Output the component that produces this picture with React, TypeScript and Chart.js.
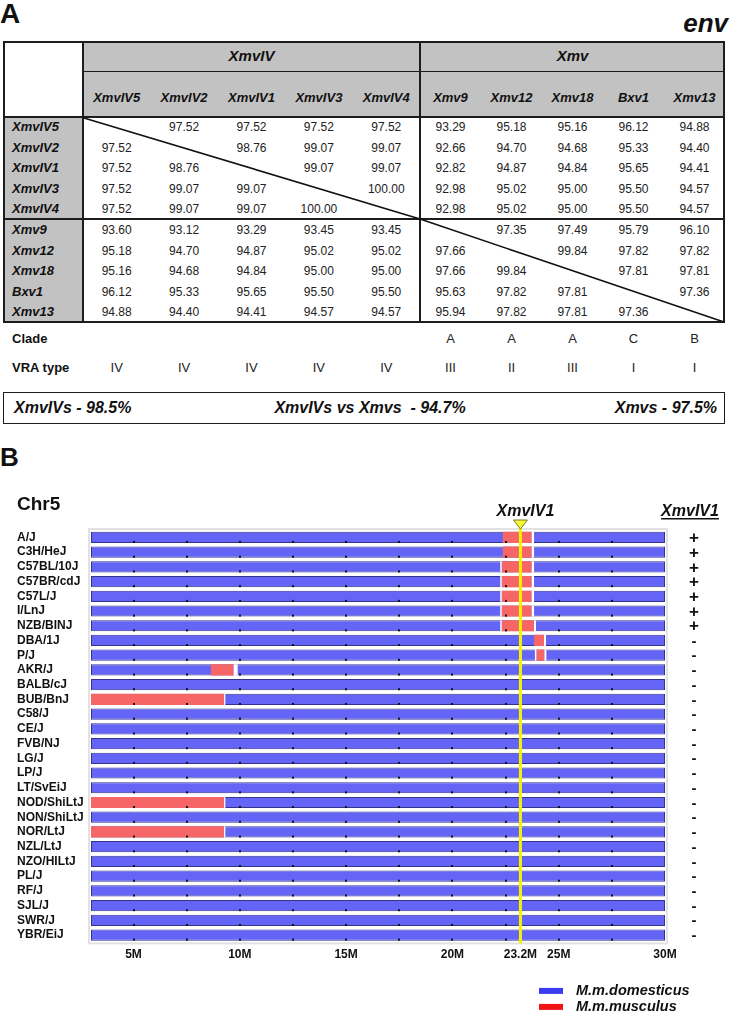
import React, { useEffect, useRef } from "react";
import { Chart, registerables } from "chart.js";

Chart.register(...registerables);

// ---------- Panel A data ----------
const virusNames = ["XmvIV5", "XmvIV2", "XmvIV1", "XmvIV3", "XmvIV4", "Xmv9", "Xmv12", "Xmv18", "Bxv1", "Xmv13"];
const groupNames = ["XmvIV", "Xmv"];
const identityRows: (number | null)[][] = [
  [null, 97.52, 97.52, 97.52, 97.52, 93.29, 95.18, 95.16, 96.12, 94.88],
  [97.52, null, 98.76, 99.07, 99.07, 92.66, 94.7, 94.68, 95.33, 94.4],
  [97.52, 98.76, null, 99.07, 99.07, 92.82, 94.87, 94.84, 95.65, 94.41],
  [97.52, 99.07, 99.07, null, 100.0, 92.98, 95.02, 95.0, 95.5, 94.57],
  [97.52, 99.07, 99.07, 100.0, null, 92.98, 95.02, 95.0, 95.5, 94.57],
  [93.6, 93.12, 93.29, 93.45, 93.45, null, 97.35, 97.49, 95.79, 96.1],
  [95.18, 94.7, 94.87, 95.02, 95.02, 97.66, null, 99.84, 97.82, 97.82],
  [95.16, 94.68, 94.84, 95.0, 95.0, 97.66, 99.84, null, 97.81, 97.81],
  [96.12, 95.33, 95.65, 95.5, 95.5, 95.63, 97.82, 97.81, null, 97.36],
  [94.88, 94.4, 94.41, 94.57, 94.57, 95.94, 97.82, 97.81, 97.36, null],
];
const clades = ["", "", "", "", "", "A", "A", "A", "C", "B"];
const vraTypes = ["IV", "IV", "IV", "IV", "IV", "III", "II", "III", "I", "I"];
const summaryTexts = ["XmvIVs - 98.5%", "XmvIVs vs Xmvs  - 94.7%", "Xmvs - 97.5%"];

// ---------- Panel B data ----------
const strains = [
  "A/J", "C3H/HeJ", "C57BL/10J", "C57BR/cdJ", "C57L/J", "I/LnJ", "NZB/BINJ", "DBA/1J", "P/J", "AKR/J",
  "BALB/cJ", "BUB/BnJ", "C58/J", "CE/J", "FVB/NJ", "LG/J", "LP/J", "LT/SvEiJ", "NOD/ShiLtJ", "NON/ShiLtJ",
  "NOR/LtJ", "NZL/LtJ", "NZO/HILtJ", "PL/J", "RF/J", "SJL/J", "SWR/J", "YBR/EiJ",
];
const xmvIV1Presence = ["+", "+", "+", "+", "+", "+", "+", "-", "-", "-", "-", "-", "-", "-", "-", "-", "-", "-", "-", "-", "-", "-", "-", "-", "-", "-", "-", "-"];
const chrStart = 3;
const chrEnd = 30;
type Seg = [number, number] | null;
const musculusSegments: Seg[] = [
  [22.37, 23.73], [22.37, 23.73], [22.32, 23.73], [22.32, 23.73], [22.32, 23.73], [22.32, 23.73], [22.32, 23.84],
  [23.84, 24.31], [23.95, 24.33], [8.64, 9.71], null, [3, 9.26], null, null, null, null, null, null,
  [3, 9.26], null, [3, 9.26], null, null, null, null, null, null, null,
];
const gapAfterSegments: Seg[] = [
  [23.73, 23.84], [23.73, 23.84], [23.73, 23.84], [23.73, 23.84], [23.73, 23.84], [23.73, 23.84], [23.84, 23.93],
  [24.31, 24.4], [24.33, 24.42], [9.71, 9.9], null, [9.26, 9.32], null, null, null, null, null, null,
  [9.26, 9.32], null, [9.26, 9.32], null, null, null, null, null, null, null,
];
const gapBeforeSegments: Seg[] = [
  null, null, [22.25, 22.32], [22.25, 22.32], [22.25, 22.32], [22.25, 22.32], [22.25, 22.32],
  null, [23.88, 23.95], null, null, null, null, null, null, null, null, null,
  null, null, null, null, null, null, null, null, null, null,
];
const xTickValues = [5, 10, 15, 20, 23.2, 25, 30];
const markerValues = [5, 7.5, 10, 12.5, 15, 17.5, 20, 22.5, 25, 27.5];
const insertionSite = 23.2;
const legendItems = [
  { label: "M.m.domesticus", color: "#3b3bf2" },
  { label: "M.m.musculus", color: "#f01414" },
];

const FONT = "'Liberation Sans', Arial, Helvetica, sans-serif";

const overlayPlugin = {
  id: "overlay",
  beforeDatasetsDraw(chart: any) {
    const { ctx, chartArea: a } = chart;
    ctx.save();
    ctx.fillStyle = "#e2e2e2";
    ctx.fillRect(a.left - 3, a.top - 2, a.right - a.left + 6, a.bottom - a.top + 4);
    ctx.fillStyle = "#ffffff";
    ctx.fillRect(a.left - 1, a.top, a.right - a.left + 2, a.bottom - a.top);
    ctx.restore();
  },
  afterDatasetsDraw(chart: any) {
    const { ctx, chartArea: a, scales } = chart;
    const xs = scales.x;
    const ys = scales.y;
    ctx.save();
    // tick marks on bars
    const meta = chart.getDatasetMeta(0);
    ctx.fillStyle = "#111111";
    meta.data.forEach((bar: any) => {
      const p = bar.getProps(["y", "height"], true);
      const bottom = p.y + p.height / 2;
      markerValues.forEach((v) => {
        const px = xs.getPixelForValue(v);
        ctx.fillRect(Math.round(px) - 1, bottom - 2, 2, 2);
      });
    });
    // insertion line
    const lx = xs.getPixelForValue(insertionSite);
    ctx.strokeStyle = "#f4f400";
    ctx.lineWidth = 3;
    ctx.beginPath();
    ctx.moveTo(lx, a.top - 2);
    ctx.lineTo(lx, a.bottom + 1);
    ctx.stroke();
    // triangle
    ctx.beginPath();
    ctx.moveTo(lx - 7, a.top - 10);
    ctx.lineTo(lx + 7, a.top - 10);
    ctx.lineTo(lx, a.top - 1);
    ctx.closePath();
    ctx.fillStyle = "#f8f830";
    ctx.fill();
    ctx.strokeStyle = "#7a7a30";
    ctx.lineWidth = 1;
    ctx.stroke();
    // label above line
    ctx.fillStyle = "#111111";
    ctx.font = `italic bold 16px ${FONT}`;
    ctx.textAlign = "center";
    ctx.textBaseline = "alphabetic";
    ctx.fillText("XmvIV1", lx + 5, a.top - 14);
    // right header, underlined
    const rx = 690;
    ctx.fillText("XmvIV1", rx, a.top - 14);
    const w = ctx.measureText("XmvIV1").width;
    ctx.fillRect(rx - w / 2, a.top - 12, w, 1.5);
    // +/- column
    strains.forEach((_, i) => {
      const cy = ys.getPixelForValue(i);
      const s = xmvIV1Presence[i];
      ctx.font = s === "+" ? `bold 17px ${FONT}` : `bold 15px ${FONT}`;
      ctx.textBaseline = "middle";
      ctx.fillText(s, 694, cy + 1);
    });
    // Chr5 title
    ctx.textAlign = "left";
    ctx.textBaseline = "alphabetic";
    ctx.font = `bold 19px ${FONT}`;
    ctx.fillText("Chr5", 17, a.top - 20);
    // legend
    legendItems.forEach((it, i) => {
      const cy = a.bottom + 48.5 + i * 16;
      ctx.fillStyle = it.color;
      ctx.fillRect(539, cy - 3, 24, 6);
      ctx.fillStyle = "#111111";
      ctx.font = `italic bold 14.5px ${FONT}`;
      ctx.textBaseline = "middle";
      ctx.fillText(it.label, 576, cy);
    });
    ctx.restore();
  },
};

function GenomeChart() {
  const ref = useRef<HTMLCanvasElement | null>(null);
  useEffect(() => {
    if (!ref.current) return;
    const common = { grouped: false, barPercentage: 0.76, categoryPercentage: 1, borderSkipped: false };
    const chart = new Chart(ref.current, {
      type: "bar",
      data: {
        labels: strains,
        datasets: [
          {
            label: "M.m.domesticus",
            data: strains.map(() => [chrStart, chrEnd]),
            backgroundColor: "#6464f6",
            borderColor: "#34348a",
            borderWidth: 1,
            order: 3,
            ...common,
          } as any,
          {
            label: "M.m.musculus",
            data: musculusSegments,
            backgroundColor: "#f76666",
            borderWidth: 0,
            order: 2,
            ...common,
          } as any,
          {
            label: "gapAfter",
            data: gapAfterSegments,
            backgroundColor: "#ffffff",
            borderWidth: 0,
            order: 1,
            ...common,
          } as any,
          {
            label: "gapBefore",
            data: gapBeforeSegments,
            backgroundColor: "#ffffff",
            borderWidth: 0,
            order: 0,
            ...common,
          } as any,
        ],
      },
      options: {
        indexAxis: "y",
        animation: false,
        responsive: false,
        maintainAspectRatio: false,
        layout: { padding: { top: 90, left: 17, right: 68, bottom: 49.6 } },
        plugins: { legend: { display: false }, tooltip: { enabled: false }, title: { display: false } },
        scales: {
          x: {
            type: "linear",
            min: chrStart,
            max: chrEnd,
            grid: { display: false, drawTicks: false },
            border: { display: false },
            afterBuildTicks: (s: any) => {
              s.ticks = xTickValues.map((v) => ({ value: v }));
            },
            afterFit: (s: any) => {
              s.height = 20;
            },
            ticks: {
              autoSkip: false,
              maxRotation: 0,
              padding: 5,
              color: "#111111",
              font: { family: FONT, size: 12, weight: "bold" },
              callback: (v: any) => `${v}M`,
            },
          },
          y: {
            type: "category",
            grid: { display: false, drawTicks: false },
            border: { display: false },
            afterFit: (s: any) => {
              s.width = 74;
            },
            ticks: {
              autoSkip: false,
              crossAlign: "far",
              padding: 0,
              color: "#111111",
              font: { family: FONT, size: 12, weight: "bold" },
            },
          },
        },
      } as any,
      plugins: [overlayPlugin],
    });
    return () => chart.destroy();
  }, []);
  return (
    <canvas
      ref={ref}
      width={733}
      height={572}
      style={{ position: "absolute", left: 0, top: 440, width: 733, height: 572 }}
    />
  );
}

const colLeft = (i: number) => (i < 5 ? 83 + i * 67.4 : 420 + (i - 5) * 61);
const colWidth = (i: number) => (i < 5 ? 67.4 : 61);
const ROW_TOP = 117;
const ROW_H = 20.6;

function abs(left: number, top: number, width: number, height: number, extra: React.CSSProperties = {}): React.CSSProperties {
  return { position: "absolute", left, top, width, height, ...extra };
}

function TablePanel() {
  const lineColor = "#1c1c1c";
  const gray = "#c2c2c2";
  const els: React.ReactNode[] = [];
  // fills
  els.push(<div key="g1" style={abs(83, 41, 642, 76, { background: gray })} />);
  els.push(<div key="g2" style={abs(3, 117, 80, 206, { background: gray })} />);
  // lines
  els.push(<div key="ob" style={abs(3, 41, 722, 282, { border: `2px solid ${lineColor}`, boxSizing: "border-box" })} />);
  els.push(<div key="v1" style={abs(82, 41, 2, 282, { background: lineColor })} />);
  els.push(<div key="v2" style={abs(419, 41, 2, 282, { background: lineColor })} />);
  els.push(<div key="h1" style={abs(3, 116, 722, 2, { background: lineColor })} />);
  els.push(<div key="h2" style={abs(3, 218, 722, 2, { background: lineColor })} />);
  els.push(<div key="h0" style={abs(83, 70.5, 642, 1.5, { background: lineColor })} />);
  // group headers
  groupNames.forEach((g, gi) => {
    const l = gi === 0 ? 83 : 420;
    const w = gi === 0 ? 337 : 305;
    els.push(
      <div key={"gh" + gi} style={abs(l, 41, w, 30, { lineHeight: "30px", textAlign: "center", fontWeight: "bold", fontStyle: "italic", fontSize: 15 })}>
        {g}
      </div>
    );
  });
  // column headers
  virusNames.forEach((n, i) => {
    els.push(
      <div key={"ch" + i} style={abs(colLeft(i), 88, colWidth(i), 20, { lineHeight: "20px", textAlign: "center", fontWeight: "bold", fontStyle: "italic", fontSize: 13 })}>
        {n}
      </div>
    );
  });
  // rows
  identityRows.forEach((row, r) => {
    const top = ROW_TOP + r * ROW_H;
    els.push(
      <div key={"rh" + r} style={abs(12, top, 70, ROW_H, { lineHeight: ROW_H + "px", fontWeight: "bold", fontStyle: "italic", fontSize: 13 })}>
        {virusNames[r]}
      </div>
    );
    row.forEach((v, c) => {
      if (v === null) return;
      els.push(
        <div key={`c${r}_${c}`} style={abs(colLeft(c), top, colWidth(c), ROW_H, { lineHeight: ROW_H + "px", textAlign: "center", fontSize: 12, color: "#222" })}>
          {v.toFixed(2)}
        </div>
      );
    });
  });
  // clade and VRA rows
  const extraRows: [string, string[], number][] = [
    ["Clade", clades, 339],
    ["VRA type", vraTypes, 368],
  ];
  extraRows.forEach(([label, vals, cy], k) => {
    els.push(
      <div key={"xl" + k} style={abs(12, cy - 10, 80, 20, { lineHeight: "20px", fontWeight: "bold", fontSize: 13 })}>
        {label}
      </div>
    );
    vals.forEach((v, c) => {
      els.push(
        <div key={`x${k}_${c}`} style={abs(colLeft(c), cy - 10, colWidth(c), 20, { lineHeight: "20px", textAlign: "center", fontSize: 13, color: "#222" })}>
          {v}
        </div>
      );
    });
  });
  // summary box
  els.push(<div key="sb" style={abs(3, 392, 722, 32, { border: `1.5px solid ${lineColor}`, boxSizing: "border-box" })} />);
  const sumStyle: React.CSSProperties = { lineHeight: "32px", fontWeight: "bold", fontStyle: "italic", fontSize: 16, whiteSpace: "pre" };
  els.push(<div key="s0" style={abs(14, 392, 200, 32, sumStyle)}>{summaryTexts[0]}</div>);
  els.push(<div key="s1" style={abs(220, 392, 300, 32, { ...sumStyle, textAlign: "center" })}>{summaryTexts[1]}</div>);
  els.push(<div key="s2" style={abs(517, 392, 200, 32, { ...sumStyle, textAlign: "right" })}>{summaryTexts[2]}</div>);
  // diagonals
  els.push(
    <svg key="diag" width={733} height={330} style={{ position: "absolute", left: 0, top: 0 }}>
      <line x1={84} y1={118} x2={420} y2={219} stroke="#111" strokeWidth={1.6} />
      <line x1={420} y1={219} x2={724} y2={322} stroke="#111" strokeWidth={1.6} />
    </svg>
  );
  return <>{els}</>;
}

export default function App() {
  useEffect(() => {
    document.body.style.margin = "0";
  }, []);
  return (
    <div style={{ position: "relative", width: 733, height: 1012, fontFamily: FONT, color: "#111", background: "#fff", overflow: "hidden" }}>
      <div style={abs(0, 0, 40, 28, { fontSize: 28, lineHeight: "28px", fontWeight: "bold" })}>A</div>
      <div style={abs(600, 10, 128, 26, { fontSize: 26, lineHeight: "26px", fontWeight: "bold", fontStyle: "italic", textAlign: "right" })}>env</div>
      <TablePanel />
      <div style={abs(0, 444, 40, 26, { fontSize: 26, lineHeight: "26px", fontWeight: "bold" })}>B</div>
      <GenomeChart />
    </div>
  );
}
